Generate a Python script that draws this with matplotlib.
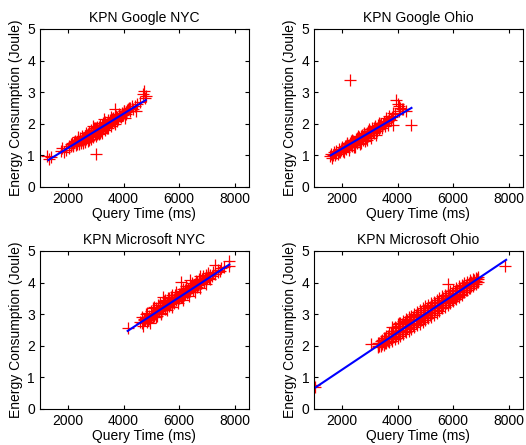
import matplotlib
matplotlib.use('Agg')
import matplotlib.pyplot as plt

plt.rcParams['font.family'] = ['Liberation Sans', 'DejaVu Sans']
plt.rcParams['font.size'] = 10

############################ DATOS ############################
titles = ['KPN Google NYC', 'KPN Google Ohio', 'KPN Microsoft NYC', 'KPN Microsoft Ohio']

# KPN Google NYC
gnyc_x = [1250, 1330, 1400, 1750, 1800, 1850, 2050, 2100, 2150, 2200, 2250, 2300, 2350, 2400,
          2450, 2500, 2520, 2550, 2600, 2620, 2650, 2700, 2720, 2750, 2800, 2820, 2850, 2900,
          2920, 2950, 3000, 3000, 3020, 3050, 3100, 3120, 3150, 3200, 3220, 3250, 3300, 3320,
          3350, 3400, 3420, 3450, 3500, 3550, 3600, 3650, 3700, 3700, 3750, 3800, 3850, 3900,
          3950, 4000, 4050, 4100, 4150, 4200, 4300, 4350, 4450, 4500, 4600, 4700, 4750, 4800,
          4780, 2180, 2280, 2380, 2480, 2580, 2680, 2780, 2880, 2980, 3080, 3180, 3280, 3380,
          3480, 3580, 3680, 3780, 3880, 3980, 4080, 4250, 2600, 2900, 3300, 3550, 2400, 2750,
          3050, 3150, 3450]
gnyc_y = [0.97, 0.88, 0.95, 1.15, 1.22, 1.12, 1.30, 1.35, 1.40, 1.33, 1.45, 1.38, 1.50, 1.42,
          1.55, 1.47, 1.60, 1.38, 1.62, 1.50, 1.70, 1.58, 1.45, 1.75, 1.65, 1.52, 1.80, 1.70,
          1.58, 1.85, 1.05, 1.75, 1.62, 1.90, 1.80, 1.68, 1.95, 1.85, 1.72, 2.02, 1.92, 1.80,
          2.05, 1.98, 1.85, 2.12, 2.05, 1.92, 2.15, 2.08, 2.47, 2.00, 2.22, 2.15, 2.30, 2.20,
          2.35, 2.40, 2.17, 2.38, 2.45, 2.50, 2.55, 2.45, 2.40, 2.62, 2.68, 2.95, 3.02, 2.88,
          2.80, 1.28, 1.32, 1.58, 1.40, 1.52, 1.65, 1.58, 1.62, 1.88, 1.72, 1.78, 1.88, 1.90,
          2.00, 2.05, 2.18, 2.10, 2.25, 2.28, 2.30, 2.40, 1.42, 1.92, 2.15, 2.20, 1.36, 1.50,
          1.66, 1.72, 1.88]
gnyc_x2 = [2230, 2330, 2430, 2530, 2560, 2630, 2660, 2730, 2760, 2830, 2860, 2930, 2960, 3030,
           3060, 3130, 3160, 3230, 3260, 3330, 3360, 3430, 3460, 3530, 3560, 3630, 3660, 3730,
           3760, 3830, 3930, 4030, 4130, 4230, 4400, 2130, 2030, 1950]
gnyc_y2 = [1.42, 1.35, 1.48, 1.55, 1.45, 1.60, 1.52, 1.68, 1.60, 1.75, 1.65, 1.78, 1.70, 1.85,
           1.78, 1.90, 1.82, 1.95, 1.85, 2.00, 1.92, 2.05, 1.96, 2.12, 2.02, 2.18, 2.10, 2.25,
           2.12, 2.28, 2.30, 2.40, 2.42, 2.50, 2.55, 1.28, 1.22, 1.18]
gnyc_fit_x = [1300, 4800]
gnyc_fit_y = [0.85, 2.75]

# KPN Google Ohio
gohio_x = [1580, 1620, 1650, 1700, 1750, 1800, 1850, 1900, 1950, 2000, 2050, 2100, 2150, 2200,
           2250, 2300, 2300, 2350, 2400, 2450, 2500, 2550, 2600, 2650, 2700, 2750, 2800, 2850,
           2900, 2950, 3000, 3050, 3100, 3150, 3200, 3250, 3300, 3350, 3400, 3450, 3500, 3600,
           3650, 3700, 3800, 3830, 3900, 3950, 4000, 4050, 4100, 4200, 4300, 4500, 2120, 2220,
           2320, 2420, 2520, 2620, 2720, 2820, 2920, 3020, 3120, 3220, 2180, 2380, 2580, 2780,
           2980, 3180, 3380, 3550, 2060, 2270, 2480, 2700, 2900]
gohio_y = [0.97, 1.05, 0.93, 1.10, 1.02, 1.15, 1.05, 1.20, 1.10, 1.25, 1.15, 1.30, 1.20, 1.35,
           1.25, 3.38, 1.40, 1.28, 1.45, 1.32, 1.52, 1.38, 1.58, 1.45, 1.62, 1.50, 1.68, 1.55,
           1.72, 1.60, 1.78, 1.65, 1.85, 1.70, 1.90, 1.78, 1.95, 1.82, 2.00, 1.88, 2.05, 2.10,
           1.95, 2.15, 2.20, 1.96, 2.30, 2.75, 2.62, 2.40, 2.50, 2.45, 2.40, 1.97, 1.22, 1.28,
           1.33, 1.38, 1.44, 1.50, 1.55, 1.60, 1.65, 1.70, 1.75, 1.82, 1.38, 1.50, 1.60, 1.70,
           1.82, 1.92, 1.90, 1.92, 1.10, 1.18, 1.26, 1.40, 1.50]
gohio_x2 = [1680, 1780, 1880, 1980, 2080, 2160, 2260, 2360, 2460, 2560, 2660, 2760, 2860, 2960,
            3060, 3160, 3260, 3360, 3460, 3560, 3660, 3760, 2340, 2540, 2740, 2940, 3140, 3340,
            2440, 2640, 2840, 3040, 3240, 3700, 3600, 3850, 4050, 4150]
gohio_y2 = [1.02, 1.08, 1.12, 1.18, 1.22, 1.28, 1.32, 1.38, 1.42, 1.48, 1.52, 1.58, 1.62, 1.70,
            1.75, 1.80, 1.85, 1.95, 1.98, 2.02, 2.08, 2.12, 1.45, 1.55, 1.65, 1.76, 1.86, 2.02,
            1.25, 1.35, 1.45, 1.55, 1.65, 2.25, 2.18, 2.35, 2.55, 2.45]
gohio_fit_x = [1600, 4500]
gohio_fit_y = [1.0, 2.5]

# KPN Microsoft NYC
mnyc_x = [4150, 4600, 4650, 4700, 4750, 4800, 4850, 4900, 4950, 5000, 5050, 5100, 5150, 5200,
          5250, 5300, 5350, 5400, 5420, 5450, 5500, 5550, 5600, 5650, 5700, 5750, 5800, 5850,
          5900, 5950, 6000, 6080, 6100, 6150, 6200, 6250, 6300, 6380, 6400, 6450, 6500, 6550,
          6600, 6650, 6700, 6735, 6800, 6850, 6900, 6950, 7000, 7050, 7100, 7200, 7300, 7400,
          7500, 7600, 7800, 7800, 4720, 4820, 4920, 5020, 5120, 5220, 5320, 5420, 5520, 5620,
          5720, 5820, 5920, 6020, 6120, 6220, 6320, 6420, 6520, 6620, 6720, 6820, 6920, 7020,
          7120, 5100, 5300, 5500, 5700, 5900]
mnyc_y = [2.55, 2.75, 2.90, 2.62, 2.85, 3.00, 2.75, 2.95, 2.72, 3.10, 2.90, 3.05, 3.20, 2.95,
          3.15, 3.30, 3.05, 3.25, 3.55, 3.40, 3.15, 3.35, 3.50, 3.25, 3.45, 3.60, 3.35, 3.55,
          3.70, 3.45, 3.65, 4.03, 3.55, 3.80, 3.65, 3.90, 3.70, 4.08, 3.85, 4.00, 3.75, 3.95,
          4.05, 3.85, 4.10, 4.20, 4.00, 4.20, 4.05, 4.25, 4.15, 4.30, 4.10, 4.35, 4.55, 4.40,
          4.45, 4.50, 4.68, 4.52, 2.80, 2.88, 2.85, 2.98, 3.00, 3.10, 3.18, 3.20, 3.28, 3.35,
          3.40, 3.48, 3.55, 3.58, 3.68, 3.75, 3.80, 3.88, 3.92, 3.95, 4.00, 4.10, 4.15, 4.20,
          4.25, 3.22, 3.35, 3.45, 3.55, 3.62]
mnyc_x2 = [4680, 4780, 4880, 4980, 5080, 5180, 5280, 5380, 5480, 5580, 5680, 5780, 5880, 5980,
           6080, 6180, 6280, 6380, 6480, 6580, 6680, 6780, 6880, 6980, 7080, 7180, 7280, 7380,
           7480, 4850, 5050, 5250, 5450, 5650, 5850, 6050, 6250, 6450, 6650, 6850, 7050, 5150,
           5350, 5550, 5750, 5950, 6150, 6350, 6550, 6750, 6950]
mnyc_y2 = [2.72, 2.80, 2.82, 2.92, 2.95, 3.05, 3.10, 3.15, 3.22, 3.28, 3.32, 3.40, 3.45, 3.50,
           3.55, 3.62, 3.68, 3.72, 3.80, 3.85, 3.92, 3.98, 4.02, 4.08, 4.15, 4.20, 4.28, 4.32,
           4.38, 3.05, 3.18, 3.28, 3.42, 3.52, 3.62, 3.72, 3.82, 3.92, 4.02, 4.12, 4.25, 2.92,
           3.00, 3.12, 3.22, 3.35, 3.45, 3.58, 3.70, 3.82, 3.95]
mnyc_fit_x = [4150, 7800]
mnyc_fit_y = [2.47, 4.57]

# KPN Microsoft Ohio
mohio_x = [1000, 1050, 3050, 4050, 5800, 7850, 3800,
           3300, 3300, 3300, 3400, 3400, 3400, 3500, 3500, 3500, 3600, 3600, 3600,
           3700, 3700, 3700, 3800, 3800, 3800, 3900, 3900, 3900, 4000, 4000, 4000,
           4100, 4100, 4100, 4200, 4200, 4200, 4300, 4300, 4300, 4400, 4400, 4400,
           4500, 4500, 4500, 4600, 4600, 4600, 4700, 4700, 4700, 4800, 4800, 4800,
           4900, 4900, 4900, 5000, 5000, 5000, 5100, 5100, 5100, 5200, 5200, 5200,
           5300, 5300, 5300, 5400, 5400, 5400, 5500, 5500, 5500, 5600, 5600, 5600,
           5700, 5700, 5700, 5800, 5800, 5800, 5900, 5900, 5900, 6000, 6000, 6000,
           6100, 6100, 6100, 6200, 6200, 6200, 6300, 6300, 6300, 6400, 6400, 6400,
           6500, 6500, 6500, 6600, 6600, 6600, 6700, 6700, 6700, 6800, 6800, 6800,
           6900, 6900, 6900]
mohio_y = [0.75, 0.68, 2.06, 2.71, 3.95, 4.52, 2.60,
           2.08, 2.00, 1.95, 2.15, 2.05, 1.98, 2.25, 2.12, 2.02, 2.32, 2.20, 2.08,
           2.40, 2.25, 2.12, 2.48, 2.30, 2.15, 2.58, 2.38, 2.20, 2.70, 2.45, 2.25,
           2.72, 2.50, 2.32, 2.78, 2.55, 2.38, 2.85, 2.62, 2.42, 2.90, 2.68, 2.48,
           2.95, 2.72, 2.52, 3.02, 2.80, 2.58, 3.08, 2.85, 2.65, 3.12, 2.90, 2.70,
           3.18, 2.95, 2.75, 3.25, 3.02, 2.80, 3.30, 3.08, 2.88, 3.35, 3.12, 2.92,
           3.40, 3.20, 2.98, 3.45, 3.25, 3.05, 3.52, 3.30, 3.10, 3.58, 3.38, 3.18,
           3.62, 3.42, 3.22, 3.68, 3.48, 3.28, 3.72, 3.55, 3.35, 3.78, 3.60, 3.42,
           3.82, 3.65, 3.48, 3.88, 3.72, 3.55, 3.92, 3.78, 3.62, 3.98, 3.85, 3.70,
           4.02, 3.90, 3.75, 4.08, 3.95, 3.82, 4.12, 4.00, 3.88, 4.15, 4.05, 3.95,
           4.18, 4.10, 4.02]
mohio_x2 = [3350, 3350, 3450, 3450, 3550, 3550, 3650, 3650, 3750, 3750, 3850, 3850,
            3950, 3950, 4050, 4050, 4150, 4150, 4250, 4250, 4350, 4350, 4450, 4450,
            4550, 4550, 4650, 4650, 4750, 4750, 4850, 4850, 4950, 4950, 5050, 5050,
            5150, 5150, 5250, 5250, 5350, 5350, 5450, 5450, 5550, 5550, 5650, 5650,
            5750, 5750, 5850, 5850, 5950, 5950, 6050, 6050, 6150, 6150, 6250, 6250,
            6350, 6350, 6450, 6450, 6550, 6550, 6650, 6650, 6750, 6750, 6850, 6850]
mohio_y2 = [2.10, 1.98, 2.18, 2.05, 2.25, 2.10, 2.32, 2.15, 2.40, 2.20, 2.48, 2.28,
            2.55, 2.32, 2.62, 2.38, 2.68, 2.42, 2.75, 2.48, 2.80, 2.55, 2.85, 2.60,
            2.92, 2.65, 2.98, 2.72, 3.02, 2.78, 3.08, 2.82, 3.12, 2.88, 3.18, 2.92,
            3.22, 2.98, 3.28, 3.05, 3.35, 3.12, 3.40, 3.18, 3.45, 3.22, 3.52, 3.28,
            3.58, 3.35, 3.62, 3.40, 3.68, 3.45, 3.72, 3.52, 3.78, 3.58, 3.82, 3.65,
            3.88, 3.70, 3.92, 3.78, 3.98, 3.82, 4.02, 3.88, 4.08, 3.95, 4.12, 4.02]
mohio_fit_x = [1000, 7900]
mohio_fit_y = [0.65, 4.72]

xs = [gnyc_x + gnyc_x2, gohio_x + gohio_x2, mnyc_x + mnyc_x2, mohio_x + mohio_x2]
ys = [gnyc_y + gnyc_y2, gohio_y + gohio_y2, mnyc_y + mnyc_y2, mohio_y + mohio_y2]
fits_x = [gnyc_fit_x, gohio_fit_x, mnyc_fit_x, mohio_fit_x]
fits_y = [gnyc_fit_y, gohio_fit_y, mnyc_fit_y, mohio_fit_y]

x_ticks = [2000, 4000, 6000, 8000]
y_ticks = [0, 1, 2, 3, 4, 5]

############################ GRAFICAS ############################
fig = plt.figure(figsize=(5.26, 4.45), dpi=100)
pos = [[0.076, 0.580, 0.397, 0.355],
       [0.597, 0.580, 0.397, 0.355],
       [0.076, 0.081, 0.397, 0.355],
       [0.597, 0.081, 0.397, 0.355]]

for i in range(4):
    ax = fig.add_axes(pos[i])
    ax.plot(xs[i], ys[i], '+', color='red', markersize=8, markeredgewidth=0.9)
    ax.plot(fits_x[i], fits_y[i], '-', color='blue', linewidth=1.5)
    ax.set_xlim(1000, 8500)
    ax.set_ylim(0, 5)
    ax.set_xticks(x_ticks)
    ax.set_yticks(y_ticks)
    ax.tick_params(direction='in', top=True, right=True, length=3, labelsize=10)
    ax.set_title(titles[i], fontsize=10, pad=5)
    ax.set_xlabel('Query Time (ms)', labelpad=1)
    ax.set_ylabel('Energy Consumption (Joule)', labelpad=3)

fig.savefig('out.png', dpi=100)
